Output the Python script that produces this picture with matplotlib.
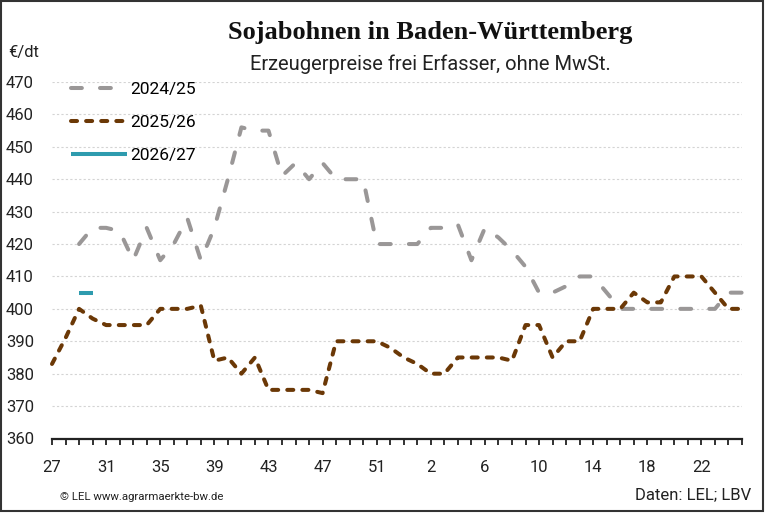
import matplotlib
matplotlib.use('Agg')
import matplotlib.pyplot as plt
from matplotlib.patches import Rectangle
import numpy as np

plt.rcParams['font.family'] = ['Roboto', 'DejaVu Sans']

# Kalenderwochen (Wirtschaftsjahr ab KW 27)
weeks = [27, 28, 29, 30, 31, 32, 33, 34, 35, 36, 37, 38, 39, 40, 41, 42, 43, 44,
         45, 46, 47, 48, 49, 50, 51, 52, 53, 1, 2, 3, 4, 5, 6, 7, 8, 9, 10, 11,
         12, 13, 14, 15, 16, 17, 18, 19, 20, 21, 22, 23, 24, 25]

# Preise in EUR/dt
p_2024 = [None, None, 420, 425, 425, 424, 415, 425, 415, 420, 428, 415, 425,
          440, 456, 455, 455, 441, 445, 440, 445, 440, 440, 440, 420, 420, 420,
          420, 425, 425, 426, 415, 425, 422, 418, 413, 405, 405, 407, 410, 410,
          405, 400, 400, 400, 400, 400, 400, 400, 400, 405, 405]
p_2025 = [383, 391, 400, 397, 395, 395, 395, 395, 400, 400, 400, 401, 384,
          385, 380, 385, 375, 375, 375, 375, 374, 390, 390, 390, 390, 388, 385,
          383, 380, 380, 385, 385, 385, 385, 384, 395, 395, 385, 390, 390, 400,
          400, 400, 405, 402, 402, 410, 410, 410, 405, 400, 400]
p_2026 = [None, None, 405, 405] + [None] * 48

labels = ['2024/25', '2025/26', '2026/27']
colors = ['#9a9797', '#6b3806', '#2e9bae']

def to_arr(v):
    return np.array([np.nan if x is None else x for x in v], dtype=float)

x = np.arange(len(weeks))

fig = plt.figure(figsize=(7.66, 5.13), dpi=100)
ax = fig.add_axes([52 / 766, 74.5 / 513, 690 / 766, 356.5 / 513])

lw = 2.9
ax.plot(x, to_arr(p_2024), color=colors[0], lw=lw, linestyle=(0, (2.7, 4.5)),
        dash_capstyle='round', label=labels[0], clip_on=False)
ax.plot(x, to_arr(p_2025), color=colors[1], lw=lw, linestyle=(0, (1.5, 2.25)),
        dash_capstyle='round', label=labels[1], clip_on=False)
ax.plot(x, to_arr(p_2026), color=colors[2], lw=lw, solid_capstyle='butt',
        label=labels[2], clip_on=False)

ax.set_xlim(0, len(weeks) - 1)
ax.set_ylim(360, 470)
ax.set_yticks(np.arange(360, 471, 10))
ax.set_xticks(x)
ax.set_xticklabels([str(w) if i % 4 == 0 else '' for i, w in enumerate(weeks)])

for s in ['top', 'right', 'left']:
    ax.spines[s].set_visible(False)
ax.spines['bottom'].set_linewidth(1.6)
ax.spines['bottom'].set_color('#222222')
ax.spines['bottom'].set_zorder(5)

ax.tick_params(axis='x', length=4.5, width=1.3, color='#222222', pad=11,
               labelsize=12, labelcolor='#222222')
ax.tick_params(axis='y', length=0, pad=13, labelsize=12, labelcolor='#222222')
ax.yaxis.grid(True, color='#d4d4d4', linestyle=(0, (2, 2)), lw=0.8)
ax.set_axisbelow(True)

ax.legend(loc='upper left', bbox_to_anchor=(71 / 766, 1 - 82 / 513),
          bbox_transform=fig.transFigure, frameon=False, fontsize=12.5,
          handlelength=3.2, handletextpad=0.2, labelspacing=1.03,
          borderpad=0, borderaxespad=0)

fig.text(430 / 766, 1 - 33 / 513, 'Sojabohnen in Baden-Württemberg',
         family='Liberation Serif', weight='bold', size=19,
         ha='center', va='center', color='#111111')
fig.text(430 / 766, 1 - 64 / 513, 'Erzeugerpreise frei Erfasser, ohne MwSt.',
         size=14.5, ha='center', va='center', color='#222222')
fig.text(8 / 766, 1 - 52 / 513, '€/dt', size=12, ha='left', va='center',
         color='#222222')
fig.text(60 / 766, 1 - 497 / 513, '© LEL www.agrarmaerkte-bw.de', size=8.2,
         ha='left', va='center', color='#222222')
fig.text(751 / 766, 1 - 495 / 513, 'Daten: LEL; LBV', size=12, ha='right',
         va='center', color='#222222')

fig.add_artist(Rectangle((0.5 / 766, 2 / 513), 762.5 / 766, 510.5 / 513,
                         transform=fig.transFigure, fill=False,
                         edgecolor='#333333', lw=1.5))

fig.savefig('out.png', dpi=100)
